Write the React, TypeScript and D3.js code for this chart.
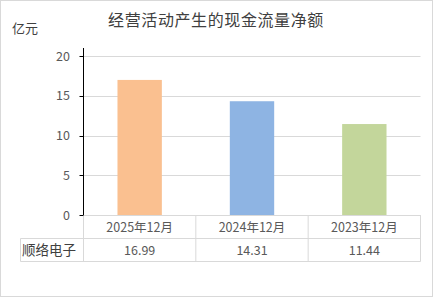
import React from "react";
import * as d3 from "d3";

const categories = ["2025年12月", "2024年12月", "2023年12月"];
const values = [16.99, 14.31, 11.44];
const valueLabels = ["16.99", "14.31", "11.44"];
const seriesName = "顺络电子";
const colors = ["#FAC090", "#8EB4E3", "#C3D69B"];
const yTicks = [0, 5, 10, 15, 20];
const title = "经营活动产生的现金流量净额";
const unit = "亿元";

const W = 434;
const H = 298;
const FONT = "'Noto Sans CJK SC', 'Noto Sans', sans-serif";

export default function App() {
  const left = 83.5;
  const right = 420.5;
  const top = 48;
  const bottom = 215;
  const x = d3.scaleBand<string>().domain(categories).range([left, right]).paddingInner(0).paddingOuter(0);
  const y = d3.scaleLinear().domain([0, 20]).range([bottom, 56]);
  const bw = x.bandwidth() * 0.395;
  const row1 = 238.5;
  const row2 = 261.5;
  const labelLeft = 20.5;
  const grid = "#d9d9d9";
  return (
    <div style={{ position: "absolute", left: 0, top: 0 }}>
      <svg width={W} height={H} style={{ display: "block", background: "#fff" }} fontFamily={FONT}>
        <rect x={0.5} y={0.5} width={432} height={296} fill="#fff" stroke={grid} />
        <text x={216} y={26} textAnchor="middle" fontSize={16} fill="#404040" letterSpacing={0.6}>
          {title}
        </text>
        <text x={12} y={33} fontSize={13} fill="#404040">
          {unit}
        </text>
        {yTicks.filter((t) => t > 0).map((t) => (
          <line key={"g" + t} x1={left} x2={right} y1={Math.round(y(t)) + 0.5} y2={Math.round(y(t)) + 0.5} stroke={grid} />
        ))}
        {categories.map((c, i) => (
          <rect
            key={c}
            x={x(c)! + x.bandwidth() / 2 - bw / 2}
            y={y(values[i])}
            width={bw}
            height={bottom - y(values[i])}
            fill={colors[i]}
          />
        ))}
        {/* table */}
        <line x1={left} x2={right} y1={bottom + 0.5} y2={bottom + 0.5} stroke={grid} />
        <line x1={labelLeft} x2={right} y1={row1} y2={row1} stroke={grid} />
        <line x1={labelLeft} x2={right} y1={row2} y2={row2} stroke={grid} />
        <line x1={labelLeft} x2={labelLeft} y1={row1} y2={row2} stroke={grid} />
        {categories.map((c) => (
          <line key={"v" + c} x1={x(c)! + x.bandwidth()} x2={x(c)! + x.bandwidth()} y1={bottom} y2={row2} stroke={grid} />
        ))}
        <line x1={left} x2={left} y1={bottom} y2={row2} stroke={grid} />
        {categories.map((c, i) => (
          <g key={"t" + c}>
            <text x={x(c)! + x.bandwidth() / 2} y={231.5} textAnchor="middle" fontSize={12.5} fill="#595959">
              {c}
            </text>
            <text x={x(c)! + x.bandwidth() / 2} y={255} textAnchor="middle" fontSize={12.5} fill="#595959">
              {valueLabels[i]}
            </text>
          </g>
        ))}
        <text x={22} y={255} fontSize={13.5} fill="#404040">
          {seriesName}
        </text>
        {/* y axis */}
        <line x1={left} x2={left} y1={top} y2={bottom} stroke="#000" />
        {yTicks.map((t) => (
          <g key={"k" + t}>
            <line x1={left - 4} x2={left} y1={Math.round(y(t)) + 0.5} y2={Math.round(y(t)) + 0.5} stroke="#000" />
            <text x={70} y={y(t) + 4.5} textAnchor="end" fontSize={12.5} fill="#595959">
              {t}
            </text>
          </g>
        ))}
      </svg>
    </div>
  );
}
